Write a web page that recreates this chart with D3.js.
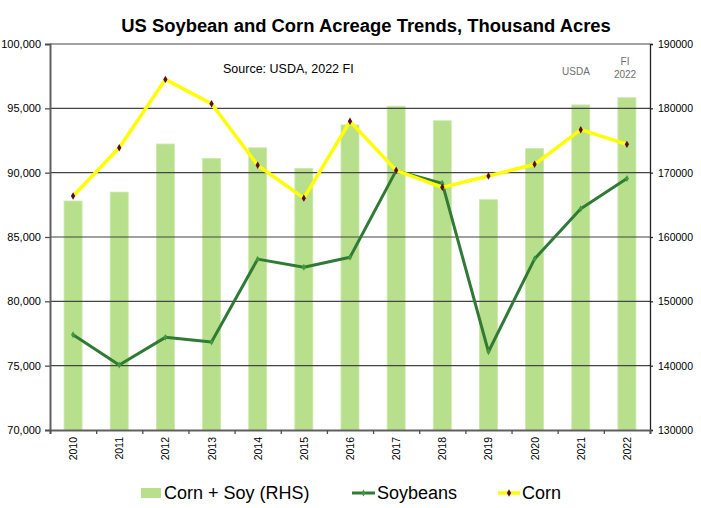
<!DOCTYPE html>
<html><head><meta charset="utf-8">
<script src="https://cdn.jsdelivr.net/npm/d3@7"></script>
<style>
html,body{margin:0;padding:0;background:#fff;}
text{font-family:"Liberation Sans",Arial,sans-serif;}
</style></head>
<body>
<svg id="chart" width="701" height="508"></svg>
<script>
const years = ["2010","2011","2012","2013","2014","2015","2016","2017","2018","2019","2020","2021","2022"];
const cornSoy = [165600, 166980, 174460, 172200, 173870, 170670, 177420, 180330, 178070, 165800, 173740, 180530, 181650];
const soybeans = [77400, 75050, 77200, 76840, 83280, 82650, 83430, 90160, 89170, 76080, 83300, 87200, 89550];
const corn = [88190, 91930, 97250, 95360, 90580, 88020, 93990, 90180, 88860, 89740, 90650, 93340, 92200];
const leftTicks = [70000, 75000, 80000, 85000, 90000, 95000, 100000];
const rightTicks = [130000, 140000, 150000, 160000, 170000, 180000, 190000];
const seriesNames = ["Corn + Soy (RHS)", "Soybeans", "Corn"];
const titleText = "US Soybean and Corn Acreage Trends, Thousand Acres";
const sourceText = "Source: USDA, 2022 FI";

const svg = d3.select("#chart");
const L = 50, R = 650, T = 44, B = 430;

const x = d3.scaleBand().domain(years).range([L, R]).paddingInner(0.61).paddingOuter(0.305);
const xb = d3.scaleLinear().domain([0, years.length]).range([L, R]);
const yL = d3.scaleLinear().domain([70000, 100000]).range([B, T]);
const yR = d3.scaleLinear().domain([130000, 190000]).range([B, T]);

// bars
svg.append("g").selectAll("rect").data(years).join("rect")
  .attr("x", d => x(d)).attr("width", x.bandwidth())
  .attr("y", (d,i) => yR(cornSoy[i])).attr("height", (d,i) => B - yR(cornSoy[i]))
  .attr("fill", "#b8e08c").attr("stroke", "#cbe9ac").attr("stroke-width", 0.8);

// gridlines
svg.append("g").selectAll("line").data(leftTicks.slice(1)).join("line")
  .attr("x1", L).attr("x2", R).attr("y1", d => yL(d)).attr("y2", d => yL(d))
  .attr("stroke", "#444").attr("stroke-width", 1.2);

// left axis
const gl = svg.append("g").attr("transform", `translate(${L},0)`)
  .call(d3.axisLeft(yL).tickValues(leftTicks).tickFormat(d3.format(",")).tickSize(5).tickPadding(4));
gl.select(".domain").attr("stroke", "#606060").attr("stroke-width", 2);
gl.selectAll(".tick line").attr("stroke", "#505050").attr("stroke-width", 1.3);
gl.selectAll("text").attr("font-size", 11).attr("fill", "#000").attr("font-family", "Liberation Sans, Arial, sans-serif");

// right axis
const gr = svg.append("g").attr("transform", `translate(${R},0)`)
  .call(d3.axisRight(yR).tickValues(rightTicks).tickFormat(d3.format("d")).tickSize(3).tickPadding(5));
gr.select(".domain").attr("stroke", "#222").attr("stroke-width", 1.3);
gr.selectAll(".tick line").attr("stroke", "#222").attr("stroke-width", 1.2);
gr.selectAll("text").attr("font-size", 10.5).attr("fill", "#000").attr("font-family", "Liberation Sans, Arial, sans-serif");

// bottom axis: ticks between categories
const gb = svg.append("g").attr("transform", `translate(0,${B})`)
  .call(d3.axisBottom(xb).tickValues(d3.range(years.length + 1)).tickFormat("").tickSize(4));
gb.select(".domain").attr("stroke", "#606060").attr("stroke-width", 2);
gb.selectAll(".tick line").attr("stroke", "#505050").attr("stroke-width", 1.3);

// year labels
svg.append("g").selectAll("text").data(years).join("text")
  .attr("transform", d => `translate(${x(d) + x.bandwidth()/2 + 4},437) rotate(-90)`)
  .attr("text-anchor", "end").attr("font-size", 10.5).attr("fill", "#000").text(d => d);

// soybean line
const cx = d => x(d) + x.bandwidth()/2;
svg.append("path").datum(years)
  .attr("d", d3.line().x(cx).y((d,i) => yL(soybeans[i])))
  .attr("fill", "none").attr("stroke", "#317a36").attr("stroke-width", 3).attr("stroke-linejoin", "round");
svg.append("g").selectAll("path").data(years).join("path")
  .attr("transform", (d,i) => `translate(${cx(d)},${yL(soybeans[i])})`)
  .attr("d", d3.symbol(d3.symbolDiamond, 14))
  .attr("fill", "#3e9a3e");

// corn line
svg.append("path").datum(years)
  .attr("d", d3.line().x(cx).y((d,i) => yL(corn[i])))
  .attr("fill", "none").attr("stroke", "#ffff00").attr("stroke-width", 3.5).attr("stroke-linejoin", "round");
svg.append("g").selectAll("path").data(years).join("path")
  .attr("transform", (d,i) => `translate(${cx(d)},${yL(corn[i])})`)
  .attr("d", d3.symbol(d3.symbolDiamond, 16))
  .attr("fill", "#5c0a2a");

// title
const title = svg.append("text").attr("x", 366).attr("y", 32).attr("text-anchor", "middle")
  .attr("font-size", 17).attr("font-weight", "bold").attr("fill", "#000").text(titleText);
const tw = title.node().getComputedTextLength();
title.attr("font-size", 17 * 490 / tw);

// source
svg.append("text").attr("x", 223).attr("y", 72.5).attr("font-size", 12.5).attr("fill", "#000").text(sourceText);

// annotations
svg.append("text").attr("x", 576).attr("y", 75).attr("text-anchor", "middle").attr("font-size", 10).attr("fill", "#6e6e6e").text("USDA");
svg.append("text").attr("x", 625).attr("y", 64.5).attr("text-anchor", "middle").attr("font-size", 10).attr("fill", "#6e6e6e").text("FI");
svg.append("text").attr("x", 625).attr("y", 78).attr("text-anchor", "middle").attr("font-size", 10).attr("fill", "#6e6e6e").text("2022");

// legend
const lg = svg.append("g");
lg.append("rect").attr("x", 141).attr("y", 488).attr("width", 20).attr("height", 10).attr("fill", "#b8e08c");
lg.append("text").attr("x", 164).attr("y", 499).attr("font-size", 18).attr("fill", "#000").text(seriesNames[0]);
lg.append("line").attr("x1", 352).attr("x2", 375).attr("y1", 493).attr("y2", 493).attr("stroke", "#317a36").attr("stroke-width", 3);
lg.append("path").attr("transform", "translate(363.5,493)").attr("d", d3.symbol(d3.symbolDiamond, 14)).attr("fill", "#3e9a3e");
lg.append("text").attr("x", 377).attr("y", 499).attr("font-size", 18).attr("fill", "#000").text(seriesNames[1]);
lg.append("line").attr("x1", 498).attr("x2", 520).attr("y1", 493).attr("y2", 493).attr("stroke", "#ffff00").attr("stroke-width", 3.5);
lg.append("path").attr("transform", "translate(509,493)").attr("d", d3.symbol(d3.symbolDiamond, 16)).attr("fill", "#5c0a2a");
lg.append("text").attr("x", 522).attr("y", 499).attr("font-size", 18).attr("fill", "#000").text(seriesNames[2]);
</script>
</body></html>
